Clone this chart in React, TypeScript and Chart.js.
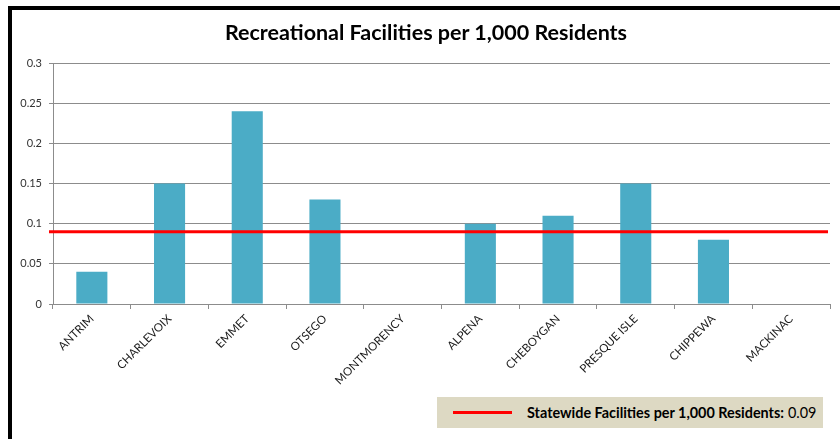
import React, { useEffect, useRef } from "react";
import { Chart, registerables } from "chart.js";

Chart.register(...registerables);

const categories = [
  "ANTRIM",
  "CHARLEVOIX",
  "EMMET",
  "OTSEGO",
  "MONTMORENCY",
  "ALPENA",
  "CHEBOYGAN",
  "PRESQUE ISLE",
  "CHIPPEWA",
  "MACKINAC",
];
const facilitiesPer1000 = [0.04, 0.15, 0.24, 0.13, 0, 0.1, 0.11, 0.15, 0.08, 0];
const statewideValue = 0.09;
const yTicks = [0, 0.05, 0.1, 0.15, 0.2, 0.25, 0.3];
const yTickLabels = ["0", "0.05", "0.1", "0.15", "0.2", "0.25", "0.3"];
const titleText = "Recreational Facilities per 1,000 Residents";
const legendLabel = "Statewide Facilities per 1,000 Residents:";
const legendValue = "0.09";

const FONT = "Lato, 'Open Sans', sans-serif";

const statewidePlugin = {
  id: "statewideLine",
  afterDatasetsDraw(chart: any) {
    const { ctx, chartArea, scales } = chart;
    const y = scales.y.getPixelForValue(statewideValue);
    ctx.save();
    ctx.strokeStyle = "#FF0000";
    ctx.lineWidth = 3;
    ctx.beginPath();
    ctx.moveTo(chartArea.left - 4, y);
    ctx.lineTo(chartArea.right - 2, y);
    ctx.stroke();
    ctx.restore();
  },
};

export default function App() {
  const canvasRef = useRef<HTMLCanvasElement | null>(null);

  useEffect(() => {
    document.body.style.margin = "0";
    const canvas = canvasRef.current;
    if (!canvas) return;
    const chart = new Chart(canvas, {
      type: "bar",
      data: {
        labels: categories,
        datasets: [
          {
            label: "Facilities per 1,000 Residents",
            data: facilitiesPer1000,
            backgroundColor: "#4BACC6",
            borderWidth: 0,
            barPercentage: 0.4,
            categoryPercentage: 1,
          },
        ],
      },
      options: {
        responsive: false,
        animation: false,
        layout: { padding: { left: 12, right: 10, top: 63, bottom: 0 } },
        plugins: {
          legend: { display: false },
          tooltip: { enabled: false },
          title: { display: false },
        },
        scales: {
          x: {
            afterFit: (s: any) => {
              s.height = 135;
            },
            grid: {
              offset: true,
              drawOnChartArea: false,
              drawTicks: true,
              tickLength: 5,
              color: "#8C8C8C",
            },
            border: { color: "#8C8C8C", width: 1 },
            ticks: {
              autoSkip: false,
              minRotation: 45,
              maxRotation: 45,
              padding: 3,
              color: "#1a1a1a",
              font: { family: FONT, size: 11.5 },
            },
          },
          y: {
            min: 0,
            max: 0.3,
            afterFit: (s: any) => {
              s.width = 41;
            },
            afterBuildTicks: (s: any) => {
              s.ticks = yTicks.map((v) => ({ value: v }));
            },
            grid: {
              color: "#8C8C8C",
              drawTicks: true,
              tickLength: 4,
            },
            border: { color: "#8C8C8C", width: 1 },
            ticks: {
              padding: 7,
              color: "#333333",
              font: { family: FONT, size: 11 },
              callback: (v: any) => {
                const i = yTicks.findIndex((t) => Math.abs(t - Number(v)) < 1e-9);
                return i >= 0 ? yTickLabels[i] : "";
              },
            },
          },
        },
      },
      plugins: [statewidePlugin],
    } as any);
    return () => chart.destroy();
  }, []);

  return (
    <div style={{ position: "relative", width: 840, height: 439, background: "#FFFFFF", overflow: "hidden" }}>
      <canvas ref={canvasRef} width={840} height={439} style={{ display: "block" }} />
      <div
        style={{
          position: "absolute",
          left: 8,
          top: 6,
          right: 0,
          bottom: 0,
          borderLeft: "4px solid #000",
          borderTop: "4px solid #000",
          pointerEvents: "none",
        }}
      />
      <div
        style={{
          position: "absolute",
          left: 12,
          right: 0,
          top: 19,
          textAlign: "center",
          fontFamily: FONT,
          fontSize: 21.5,
          fontWeight: "bold",
          lineHeight: "26px",
          color: "#000",
          whiteSpace: "nowrap",
        }}
      >
        {titleText}
      </div>
      <div
        style={{
          position: "absolute",
          left: 437,
          top: 397,
          width: 386,
          height: 31,
          background: "#DDD9C3",
          display: "flex",
          alignItems: "center",
          fontFamily: FONT,
          fontSize: 14.4,
          color: "#000",
          whiteSpace: "nowrap",
        }}
      >
        <div style={{ marginLeft: 16, width: 59, height: 3, background: "#FF0000" }} />
        <span style={{ marginLeft: 15, fontWeight: "bold" }}>{legendLabel}</span>
        <span style={{ marginLeft: 4 }}>{legendValue}</span>
      </div>
    </div>
  );
}
